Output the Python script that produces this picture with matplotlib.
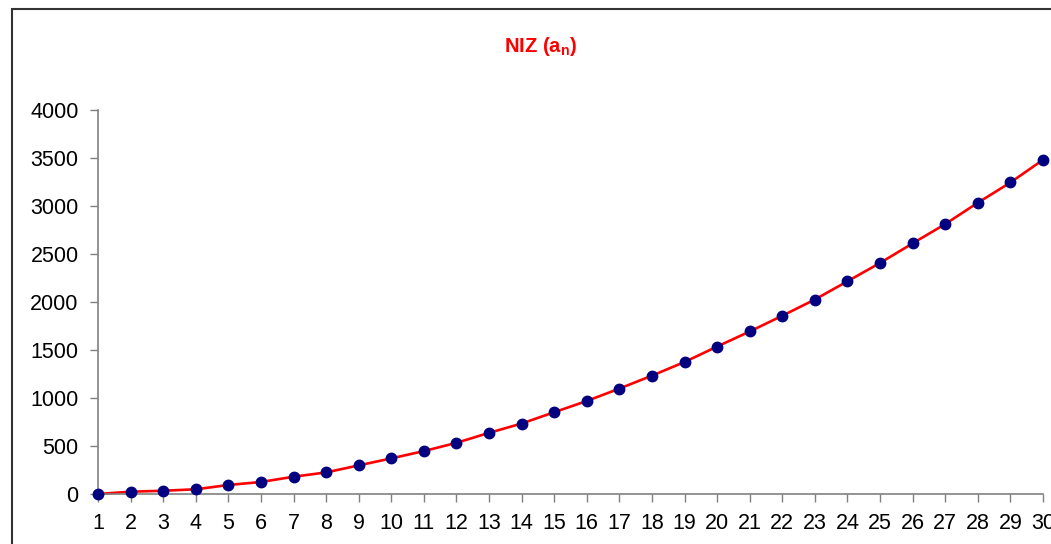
import numpy as np
import matplotlib
matplotlib.use("Agg")
import matplotlib.pyplot as plt
from matplotlib.patches import Rectangle

plt.rcParams['font.family'] = ['Liberation Sans', 'DejaVu Sans']
plt.rcParams['mathtext.fontset'] = 'custom'
plt.rcParams['mathtext.rm'] = 'Liberation Sans'
plt.rcParams['mathtext.bf'] = 'Liberation Sans:bold'

# podaci ocitani sa slike
n = list(range(1, 31))
a_n = [0, 24, 34, 49, 94, 125, 180, 225, 298, 371,
       447, 533, 637, 734, 852, 969, 1098, 1233, 1375, 1536,
       1693, 1857, 2026, 2216, 2407, 2611, 2812, 3034, 3245, 3481]
y_ticks = [0, 500, 1000, 1500, 2000, 2500, 3000, 3500, 4000]
title = 'NIZ (a$_\\mathbf{n}$)'

W, H = 1051, 544
fig = plt.figure(figsize=(W / 100, H / 100), dpi=100)
fig.patches.append(Rectangle((12 / W, -0.1), 1.2, 1.1 - 9 / H,
                             transform=fig.transFigure, fill=False,
                             edgecolor='#333333', linewidth=1.5))

ax = fig.add_axes([98 / W, (H - 494) / H, (1043 - 98) / W, (494 - 110) / H])
ax.plot(n, a_n, color='red', linewidth=1.9, zorder=2, clip_on=False)
ax.plot(n, a_n, 'o', color='#000080', markersize=7.5, zorder=3, clip_on=False)

ax.set_xlim(1, 30)
ax.set_ylim(0, 4000)
ax.set_xticks(n)
ax.set_yticks(y_ticks)
ax.tick_params(axis='both', labelsize=15.5, direction='out', length=6,
               color='#808080', width=1)
ax.tick_params(axis='x', pad=8)
ax.tick_params(axis='y', pad=8)
for s in ['top', 'right']:
    ax.spines[s].set_visible(False)
for s in ['left', 'bottom']:
    ax.spines[s].set_color('#808080')
    ax.spines[s].set_linewidth(1.2)

fig.text(541 / W, 1 - 46 / H, title, color='red', fontsize=14.5,
         fontweight='bold', ha='center', va='center')

fig.savefig('out.png', dpi=100)
